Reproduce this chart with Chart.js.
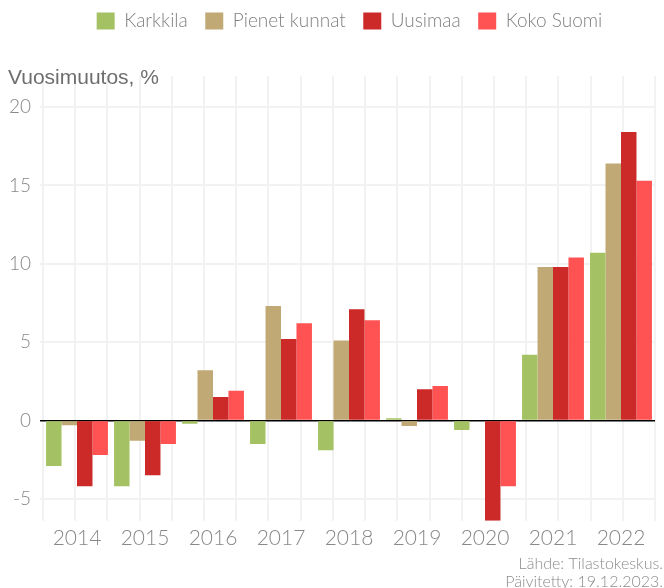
<!DOCTYPE html>
<html>
<head>
<meta charset="utf-8">
<script src="https://cdn.jsdelivr.net/npm/chart.js@4"></script>
<style>
  html, body { margin: 0; padding: 0; background: #fff; }
  #wrap { width: 664px; height: 588px; }
</style>
</head>
<body>
<div id="wrap"><canvas id="myChart"></canvas></div>
<script>
const years = ["2014", "2015", "2016", "2017", "2018", "2019", "2020", "2021", "2022"];
const karkkila = [-2.9, -4.2, -0.2, -1.5, -1.9, 0.15, -0.6, 4.2, 10.7];
const pienetKunnat = [-0.3, -1.3, 3.2, 7.3, 5.1, -0.35, 0, 9.8, 16.4];
const uusimaa = [-4.2, -3.5, 1.5, 5.2, 7.1, 2.0, -6.4, 9.8, 18.4];
const kokoSuomi = [-2.2, -1.5, 1.9, 6.2, 6.4, 2.2, -4.2, 10.4, 15.3];
const yTicks = [-5, 0, 5, 10, 15, 20];

// source note, bottom right
const notes = {
  id: "notes",
  afterLayout(chart) {
    // legend sits a bit right of centre in the original
    chart.legend.left += 18;
    chart.legend.right += 18;
  },
  afterDraw(chart) {
    const { ctx } = chart;
    ctx.save();
    ctx.fillStyle = "#8c8c8c";
    ctx.font = "300 16px Lato";
    ctx.textAlign = "right";
    ctx.textBaseline = "alphabetic";
    ctx.fillText("Lähde: Tilastokeskus.", 663, 569);
    ctx.fillText("Päivitetty: 19.12.2023.", 663, 587);
    ctx.restore();
  },
};

const chart = new Chart(document.getElementById("myChart"), {
  type: "bar",
  data: {
    labels: years,
    datasets: [
      { label: "Karkkila", data: karkkila, backgroundColor: "#a4c263" },
      { label: "Pienet kunnat", data: pienetKunnat, backgroundColor: "#c0a974" },
      { label: "Uusimaa", data: uusimaa, backgroundColor: "#cc2929" },
      { label: "Koko Suomi", data: kokoSuomi, backgroundColor: "#ff5353" },
    ],
  },
  options: {
    responsive: true,
    maintainAspectRatio: false,
    animation: false,
    datasets: {
      bar: { categoryPercentage: 0.91, barPercentage: 1.0 },
    },
    layout: { padding: { left: 8, right: 9, top: -6, bottom: 32 } },
    scales: {
      x: {
        grid: { display: false, drawTicks: false },
        border: { display: false },
        ticks: { color: "#888888", font: { family: "Lato", size: 21, weight: 300 }, padding: 5 },
      },
      xGrid: {
        type: "linear",
        position: "top",
        min: 0,
        max: years.length,
        afterBuildTicks: (axis) => {
          const t = [];
          for (let i = 0; i <= years.length * 2; i++) t.push({ value: i / 2 });
          axis.ticks = t;
        },
        grid: { color: "#f2f2f2", lineWidth: 2, drawTicks: false },
        border: { display: false },
        ticks: { display: false },
      },
      y: {
        min: -6.4,
        max: 22,
        afterBuildTicks: (axis) => {
          axis.ticks = yTicks.map((v) => ({ value: v }));
        },
        afterFit: (axis) => {
          axis.width = 35;
        },
        grid: {
          color: (c) => (c.tick && c.tick.value === 0 ? "#000000" : "#f2f2f2"),
          lineWidth: (c) => (c.tick && c.tick.value === 0 ? 1.5 : 2),
          tickLength: 3,
        },
        border: { display: false },
        ticks: { color: "#888888", font: { family: "Lato", size: 19, weight: 300 }, padding: 9 },
      },
    },
    plugins: {
      legend: {
        position: "top",
        weight: 3000,
        labels: {
          color: "#808080",
          font: { family: "Lato", size: 19, weight: 300 },
          boxWidth: 18,
          boxHeight: 17,
          padding: 17.5,
        },
      },
      title: {
        display: true,
        text: "Vuosimuutos, %",
        align: "start",
        position: "top",
        color: "#6e6e6e",
        font: { family: "Liberation Sans", size: 21, weight: "normal" },
        padding: { top: 25, bottom: -15 },
      },
      tooltip: { enabled: false },
    },
  },
  plugins: [notes],
});
</script>
</body>
</html>
